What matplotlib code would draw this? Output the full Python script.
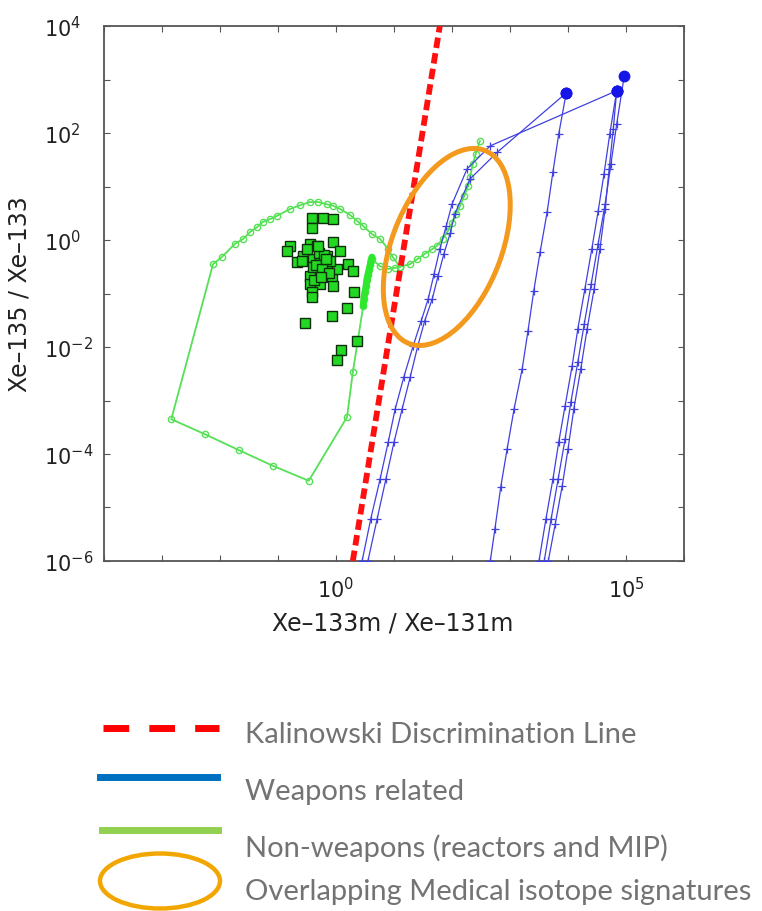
import numpy as np
import matplotlib
matplotlib.use("Agg")
import matplotlib.pyplot as plt
from matplotlib.lines import Line2D
from matplotlib.patches import Ellipse
from matplotlib.transforms import Affine2D

# all values are log10 exponents

# Kalinowski discrimination line
kal_x = [0.29, 1.79]
kal_y = [-6.0, 4.0]

# non-weapons (reactor / MIP) trajectory
green_x = [2.48, 2.41, 2.36, 2.31, 2.28, 2.21, 2.14, 2.07, 2.00, 1.93, 1.84, 1.74, 1.66, 1.53,
           1.40, 1.28, 1.10, 0.98, 0.90, 0.76, 0.62, 0.47, 0.36, 0.24, 0.07, -0.05, -0.16,
           -0.31, -0.45, -0.62, -0.79, -1.02, -1.14, -1.26, -1.36, -1.48, -1.60, -1.74, -1.97,
           -2.12, -2.84, -2.26, -1.67, -1.09, -0.47, 0.19, 0.29, 0.38, 0.47, 0.48, 0.50, 0.52,
           0.53, 0.55, 0.57, 0.59, 0.60, 0.62, 0.76, 0.90, 1.02, 1.10]
green_y = [1.85, 1.61, 1.42, 1.18, 1.01, 0.82, 0.64, 0.49, 0.32, 0.17, 0.02, -0.11, -0.17, -0.26,
           -0.36, -0.45, -0.50, -0.32, -0.17, 0.02, 0.11, 0.26, 0.36, 0.47, 0.58, 0.64, 0.67,
           0.71, 0.71, 0.65, 0.58, 0.45, 0.39, 0.34, 0.24, 0.15, 0.02, -0.07, -0.32,
           -0.45, -3.35, -3.63, -3.93, -4.22, -4.50, -3.31, -2.47, -1.85, -1.23, -1.10, -0.97, -0.86,
           -0.75, -0.65, -0.56, -0.47, -0.39, -0.36, -0.49, -0.54, -0.52, -0.50]
# dense stretch of the trajectory where markers pile up
blob_x = [0.47, 0.48, 0.50, 0.52, 0.53, 0.55, 0.57, 0.59, 0.60, 0.62]
blob_y = [-1.23, -1.10, -0.97, -0.86, -0.75, -0.65, -0.56, -0.47, -0.39, -0.32]

# measured samples (squares)
samp_x = [-0.41, -0.22, -0.05, -0.41, -0.79, -0.84, -0.67, -0.45, -0.33, -0.05, 0.07, 0.21, 0.29,
          -0.57, -0.40, -0.28, -0.16, -0.33, -0.45, -0.22, -0.07, -0.45, -0.28, -0.05, -0.41,
          -0.41, 0.31, 0.19, -0.07, -0.53, 0.36, 0.09, 0.02, -0.50, -0.16, -0.40, 0.02, -0.59, -0.10,
          -0.30, -0.20, -0.35, -0.25, -0.12, -0.38, -0.26, -0.18, -0.31]
samp_y = [0.41, 0.41, 0.39, 0.22, -0.11, -0.21, -0.41, -0.07, -0.11, -0.04, -0.21, -0.45, -0.58,
          -0.30, -0.36, -0.41, -0.49, -0.58, -0.67, -0.67, -0.69, -0.82, -0.82, -0.86, -0.97,
          -1.07, -0.97, -1.27, -1.42, -1.55, -1.89, -2.06, -2.24, -0.17, -0.30, -0.50, -0.54, -0.39, -0.39,
          -0.24, -0.28, -0.47, -0.55, -0.62, -0.74, -0.70, -0.36, -0.12]

# weapons-related trajectories
weap_x = [
    [0.45, 0.60, 0.76, 0.90, 1.02, 1.17, 1.33, 1.47, 1.59, 1.69, 1.79, 1.90, 2.00, 2.26, 2.66, 4.84],
    [0.55, 0.71, 0.86, 1.00, 1.14, 1.28, 1.41, 1.53, 1.66, 1.76, 1.86, 1.97, 2.05, 2.31, 2.78, 3.97],
    [2.66, 2.74, 2.84, 2.95, 3.07, 3.21, 3.31, 3.41, 3.52, 3.64, 3.74, 3.84, 3.97],
    [3.50, 3.62, 3.74, 3.84, 3.95, 4.07, 4.17, 4.29, 4.41, 4.52, 4.62, 4.72, 4.84],
    [3.59, 3.71, 3.83, 3.95, 4.05, 4.17, 4.28, 4.40, 4.52, 4.64, 4.74, 4.84, 4.97],
    [3.66, 3.78, 3.90, 4.00, 4.10, 4.22, 4.33, 4.45, 4.55, 4.64, 4.71, 4.78, 4.84],
]
weap_y = [
    [-6.0, -5.21, -4.47, -3.78, -3.16, -2.56, -1.98, -1.51, -1.10, -0.64, -0.17, 0.26, 0.67, 1.33, 1.76, 2.79],
    [-6.0, -5.21, -4.47, -3.78, -3.16, -2.56, -1.98, -1.51, -1.10, -0.67, -0.26, 0.13, 0.49, 1.14, 1.64, 2.75],
    [-6.0, -5.40, -4.62, -3.91, -3.16, -2.41, -1.70, -0.95, -0.22, 0.52, 1.27, 1.98, 2.75],
    [-6.0, -5.21, -4.47, -3.78, -3.10, -2.36, -1.66, -0.92, -0.17, 0.54, 1.23, 1.98, 2.79],
    [-6.0, -5.21, -4.47, -3.72, -3.03, -2.28, -1.57, -0.82, -0.07, 0.67, 1.42, 2.17, 3.07],
    [-6.0, -5.31, -4.60, -3.91, -3.16, -2.41, -1.66, -0.92, -0.17, 0.58, 1.33, 2.07, 2.79],
]

# overlap region (centre in log10 units, semi-axes in decades)
ell_center = (1.91, -0.13)
ell_axes = (1.92, 0.95)
ell_angle = 71

legend_labels = ["Kalinowski Discrimination Line", "Weapons related",
                 "Non-weapons (reactors and MIP)", "Overlapping Medical isotope signatures"]

fig = plt.figure(figsize=(7.62, 9.12), dpi=100)
ax = fig.add_axes([104 / 762, 350 / 912, 580 / 762, 535 / 912])
ax.set_xscale("log")
ax.set_yscale("log")
ax.set_xlim(1e-4, 1e6)
ax.set_ylim(1e-6, 1e4)

gcol = "#55e055"
ax.plot(10.0 ** np.array(green_x), 10.0 ** np.array(green_y), color=gcol, lw=1.3,
        marker="o", ms=4.5, mfc="none", mec=gcol, mew=1.0, zorder=2)
ax.plot(10.0 ** np.array(blob_x), 10.0 ** np.array(blob_y), color="#2ee82e", lw=5,
        solid_capstyle="round", zorder=2)
ax.plot(10.0 ** np.array(samp_x), 10.0 ** np.array(samp_y), ls="none", marker="s", ms=6.5,
        mfc="#22d822", mec="#0d2d0d", mew=1.0, zorder=3)

bcol = "#4040e0"
for xs, ys in zip(weap_x, weap_y):
    ax.plot(10.0 ** np.array(xs), 10.0 ** np.array(ys), color=bcol, lw=0.9,
            marker="+", ms=6, mew=0.9, zorder=4)
    ax.plot(10.0 ** xs[-1], 10.0 ** ys[-1], "o", color="#1515e8", ms=7.5, zorder=5)

ax.plot(10.0 ** np.array(kal_x), 10.0 ** np.array(kal_y), color="#ff1010", lw=4.2,
        ls=(0, (1.8, 0.9)), dash_capstyle="butt", zorder=6)

# ellipse drawn in log10 space, mapped linearly onto the axes
logtrans = Affine2D().scale(0.1).translate(0.4, 0.6) + ax.transAxes
ax.add_patch(Ellipse(ell_center, 2 * ell_axes[0], 2 * ell_axes[1], angle=ell_angle,
                     fill=False, ec="#f39a1e", lw=3.6, transform=logtrans, zorder=7))

xt = 10.0 ** np.arange(-4, 7)
ax.set_xticks(xt)
ax.set_xticklabels([r"$10^{%d}$" % e if e in (0, 5) else "" for e in range(-4, 7)])
yt = 10.0 ** np.arange(-6, 5)
ax.set_yticks(yt)
ax.set_yticklabels([r"$10^{%d}$" % e if e % 2 == 0 else "" for e in range(-6, 5)])
ax.minorticks_off()
ax.tick_params(which="both", direction="in", top=True, right=True, length=4,
               color="#555555", labelsize=15, labelcolor="#222222")
ax.tick_params(axis="x", pad=11)
ax.tick_params(axis="y", pad=43)
for lbl in ax.get_yticklabels():
    lbl.set_ha("left")
for sp in ax.spines.values():
    sp.set_color("#555555")
    sp.set_linewidth(1.3)

ax.set_xlabel("Xe–133m / Xe–131m", fontsize=17, color="#222222")
ax.xaxis.set_label_coords(0.497, -0.092)
ax.set_ylabel("Xe–135 / Xe–133", fontsize=17, color="#222222")
ax.yaxis.set_label_coords(-0.125, 0.5)

# legend below the chart
def fx(p):
    return p / 762

def fy(p):
    return 1 - p / 912

fig.add_artist(Line2D([fx(103), fx(219)], [fy(729), fy(729)], color="#ff0000", lw=5,
                      ls=(0, (3.7, 2.9)), dash_capstyle="butt", transform=fig.transFigure))
fig.add_artist(Line2D([fx(100), fx(217)], [fy(778), fy(778)], color="#0070c0", lw=5,
                      transform=fig.transFigure))
fig.add_artist(Line2D([fx(102), fx(218)], [fy(831), fy(831)], color="#92d050", lw=5,
                      transform=fig.transFigure))
fig.add_artist(Ellipse((fx(160), fy(882)), 120 / 762, 55 / 912, fill=False,
                       ec="#f2a600", lw=3.2, transform=fig.transFigure))
for lab, base in zip(legend_labels, [743, 800, 857, 900]):
    fig.text(fx(245), fy(base), lab, fontsize=21, color="#737373", family="Lato",
             va="baseline", ha="left")

fig.savefig("out.png", dpi=100)
